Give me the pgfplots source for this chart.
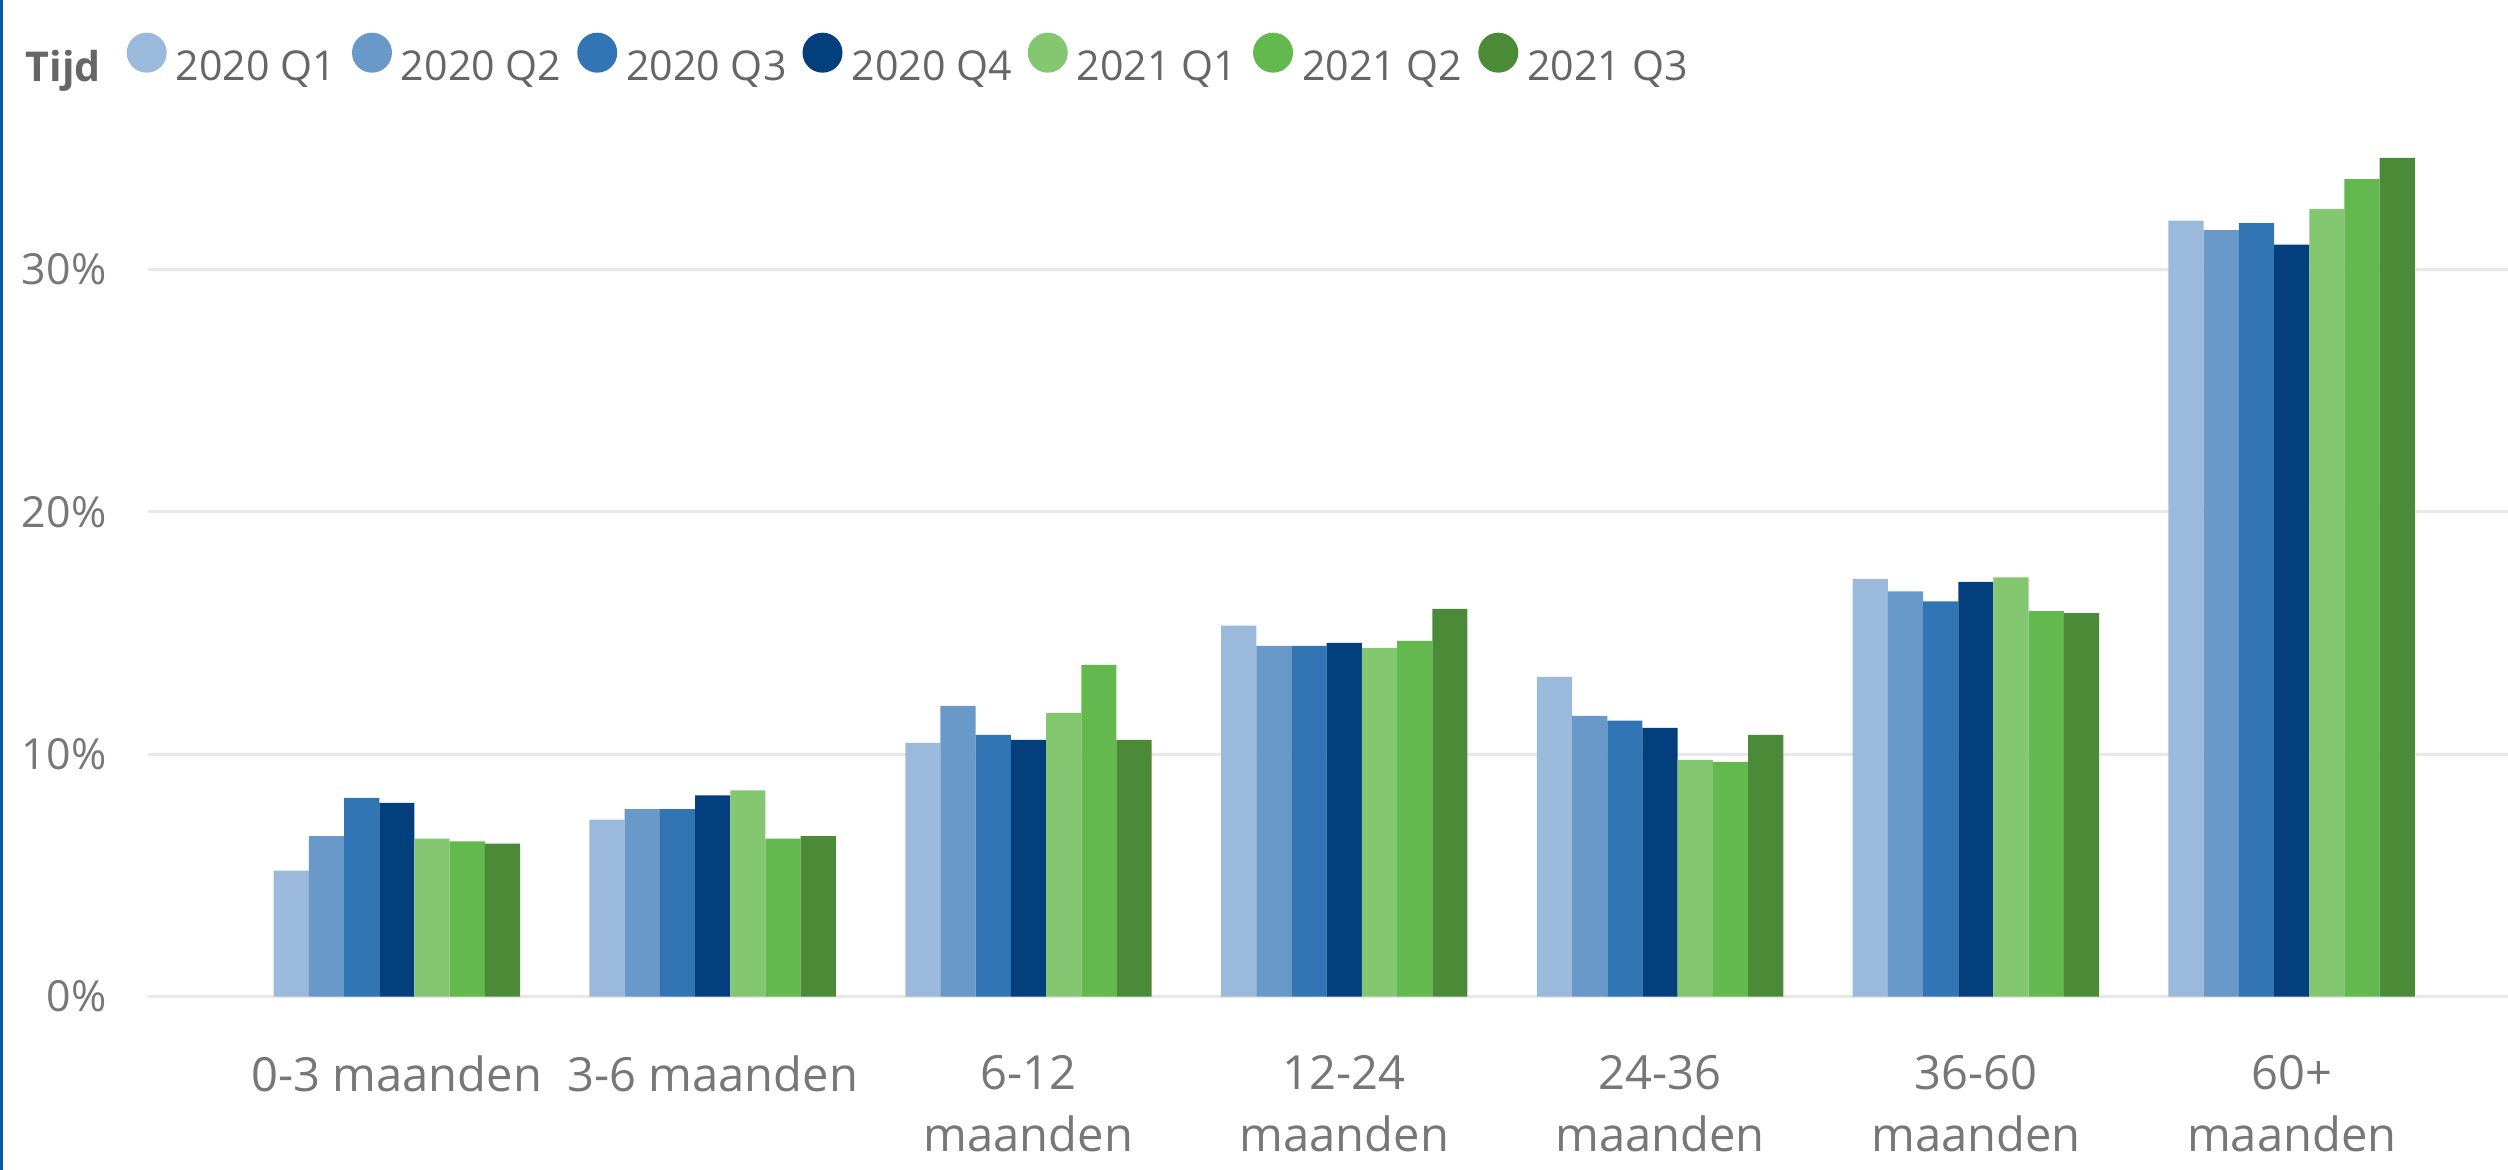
\documentclass[border=0pt]{standalone}
\usepackage{fontspec}
\setmainfont{Open Sans}
\usepackage{pgfplots}
\usepackage{pgfplotstable}
\pgfplotsset{compat=1.18}

\definecolor{qa}{HTML}{9BBADB}
\definecolor{qb}{HTML}{6899C8}
\definecolor{qc}{HTML}{3275B5}
\definecolor{qd}{HTML}{033F7C}
\definecolor{qe}{HTML}{83C770}
\definecolor{qf}{HTML}{64B94E}
\definecolor{qg}{HTML}{4B8B38}
\definecolor{gridc}{HTML}{E8E8E8}
\definecolor{labc}{HTML}{777777}
\definecolor{legc}{HTML}{666666}
\definecolor{edge}{HTML}{0B5AAA}

% share per period, in percent
\pgfplotstableread{
x  a     b     c     d     e     f     g
0  5.20  6.62  8.20  7.99  6.52  6.40  6.31
1  7.30  7.73  7.73  8.30  8.51  6.52  6.62
2  10.47 11.99 10.80 10.59 11.70 13.69 10.59
3  15.30 14.47 14.47 14.59 14.39 14.68 16.00
4  13.19 11.58 11.38 11.09 9.77  9.68  10.80
5  17.23 16.72 16.31 17.11 17.30 15.90 15.82
6  32.01 31.62 31.91 31.02 32.49 33.73 34.60
}\tijd

\pgfplotsset{lg/.style={legend image code/.code={\fill[##1] (2mm,1.54mm) circle (2mm);}}}

\begin{document}
\begin{tikzpicture}
\useasboundingbox (0,0) rectangle (250.8mm,117mm);
\fill[edge] (0,0) rectangle (0.33mm,117mm);
\begin{axis}[
  at={(14.8mm,17.34mm)}, anchor=south west,
  scale only axis, width=236mm, height=87.26mm,
  xmin=-0.788, xmax=6.685, ymin=0, ymax=36,
  clip=false,
  ybar=0pt, bar width=3.52mm,
  axis line style={draw=none},
  major tick length=0pt,
  ytick={0,10,20,30}, yticklabels={0\%,10\%,20\%,30\%},
  xtick={0,...,6},
  xticklabels={0-3 maanden, 3-6 maanden, {6-12\\maanden}, {12-24\\maanden},
    {24-36\\maanden}, {36-60\\maanden}, {60+\\maanden}},
  ymajorgrids, grid style={draw=gridc, line width=0.33mm},
  yticklabel style={anchor=east, inner sep=0pt, xshift=-4.1mm,
    font=\fontsize{12.2}{14}\selectfont, text=labc},
  xticklabel style={anchor=north, align=center, inner sep=0pt, yshift=-5.8mm,
    font=\fontsize{13.4}{17.7}\selectfont, text=labc},
  legend style={at={(-0.0559,1.0739)}, anchor=west, draw=none, fill=none,
    legend columns=-1, font=\fontsize{11.7}{14}\selectfont, text=legc,
    inner sep=0pt, column sep=0pt, nodes={inner sep=0pt},
    /tikz/every odd column/.append style={column sep=0.9mm},
    /tikz/every even column/.append style={column sep=1.6mm}},
]
\addlegendimage{empty legend}
\addlegendentry{\textbf{Tijd}\hspace*{1mm}}
\addplot[fill=qa, draw=none, bar shift=-10.56mm, lg] table[x=x, y=a] {\tijd};
\addlegendentry{2020 Q1}
\addplot[fill=qb, draw=none, bar shift=-7.04mm, lg] table[x=x, y=b] {\tijd};
\addlegendentry{2020 Q2}
\addplot[fill=qc, draw=none, bar shift=-3.52mm, lg] table[x=x, y=c] {\tijd};
\addlegendentry{2020 Q3}
\addplot[fill=qd, draw=none, bar shift=0mm, lg] table[x=x, y=d] {\tijd};
\addlegendentry{2020 Q4}
\addplot[fill=qe, draw=none, bar shift=3.52mm, lg] table[x=x, y=e] {\tijd};
\addlegendentry{2021 Q1}
\addplot[fill=qf, draw=none, bar shift=7.04mm, lg] table[x=x, y=f] {\tijd};
\addlegendentry{2021 Q2}
\addplot[fill=qg, draw=none, bar shift=10.56mm, lg] table[x=x, y=g] {\tijd};
\addlegendentry{2021 Q3}
\end{axis}
\end{tikzpicture}
\end{document}
